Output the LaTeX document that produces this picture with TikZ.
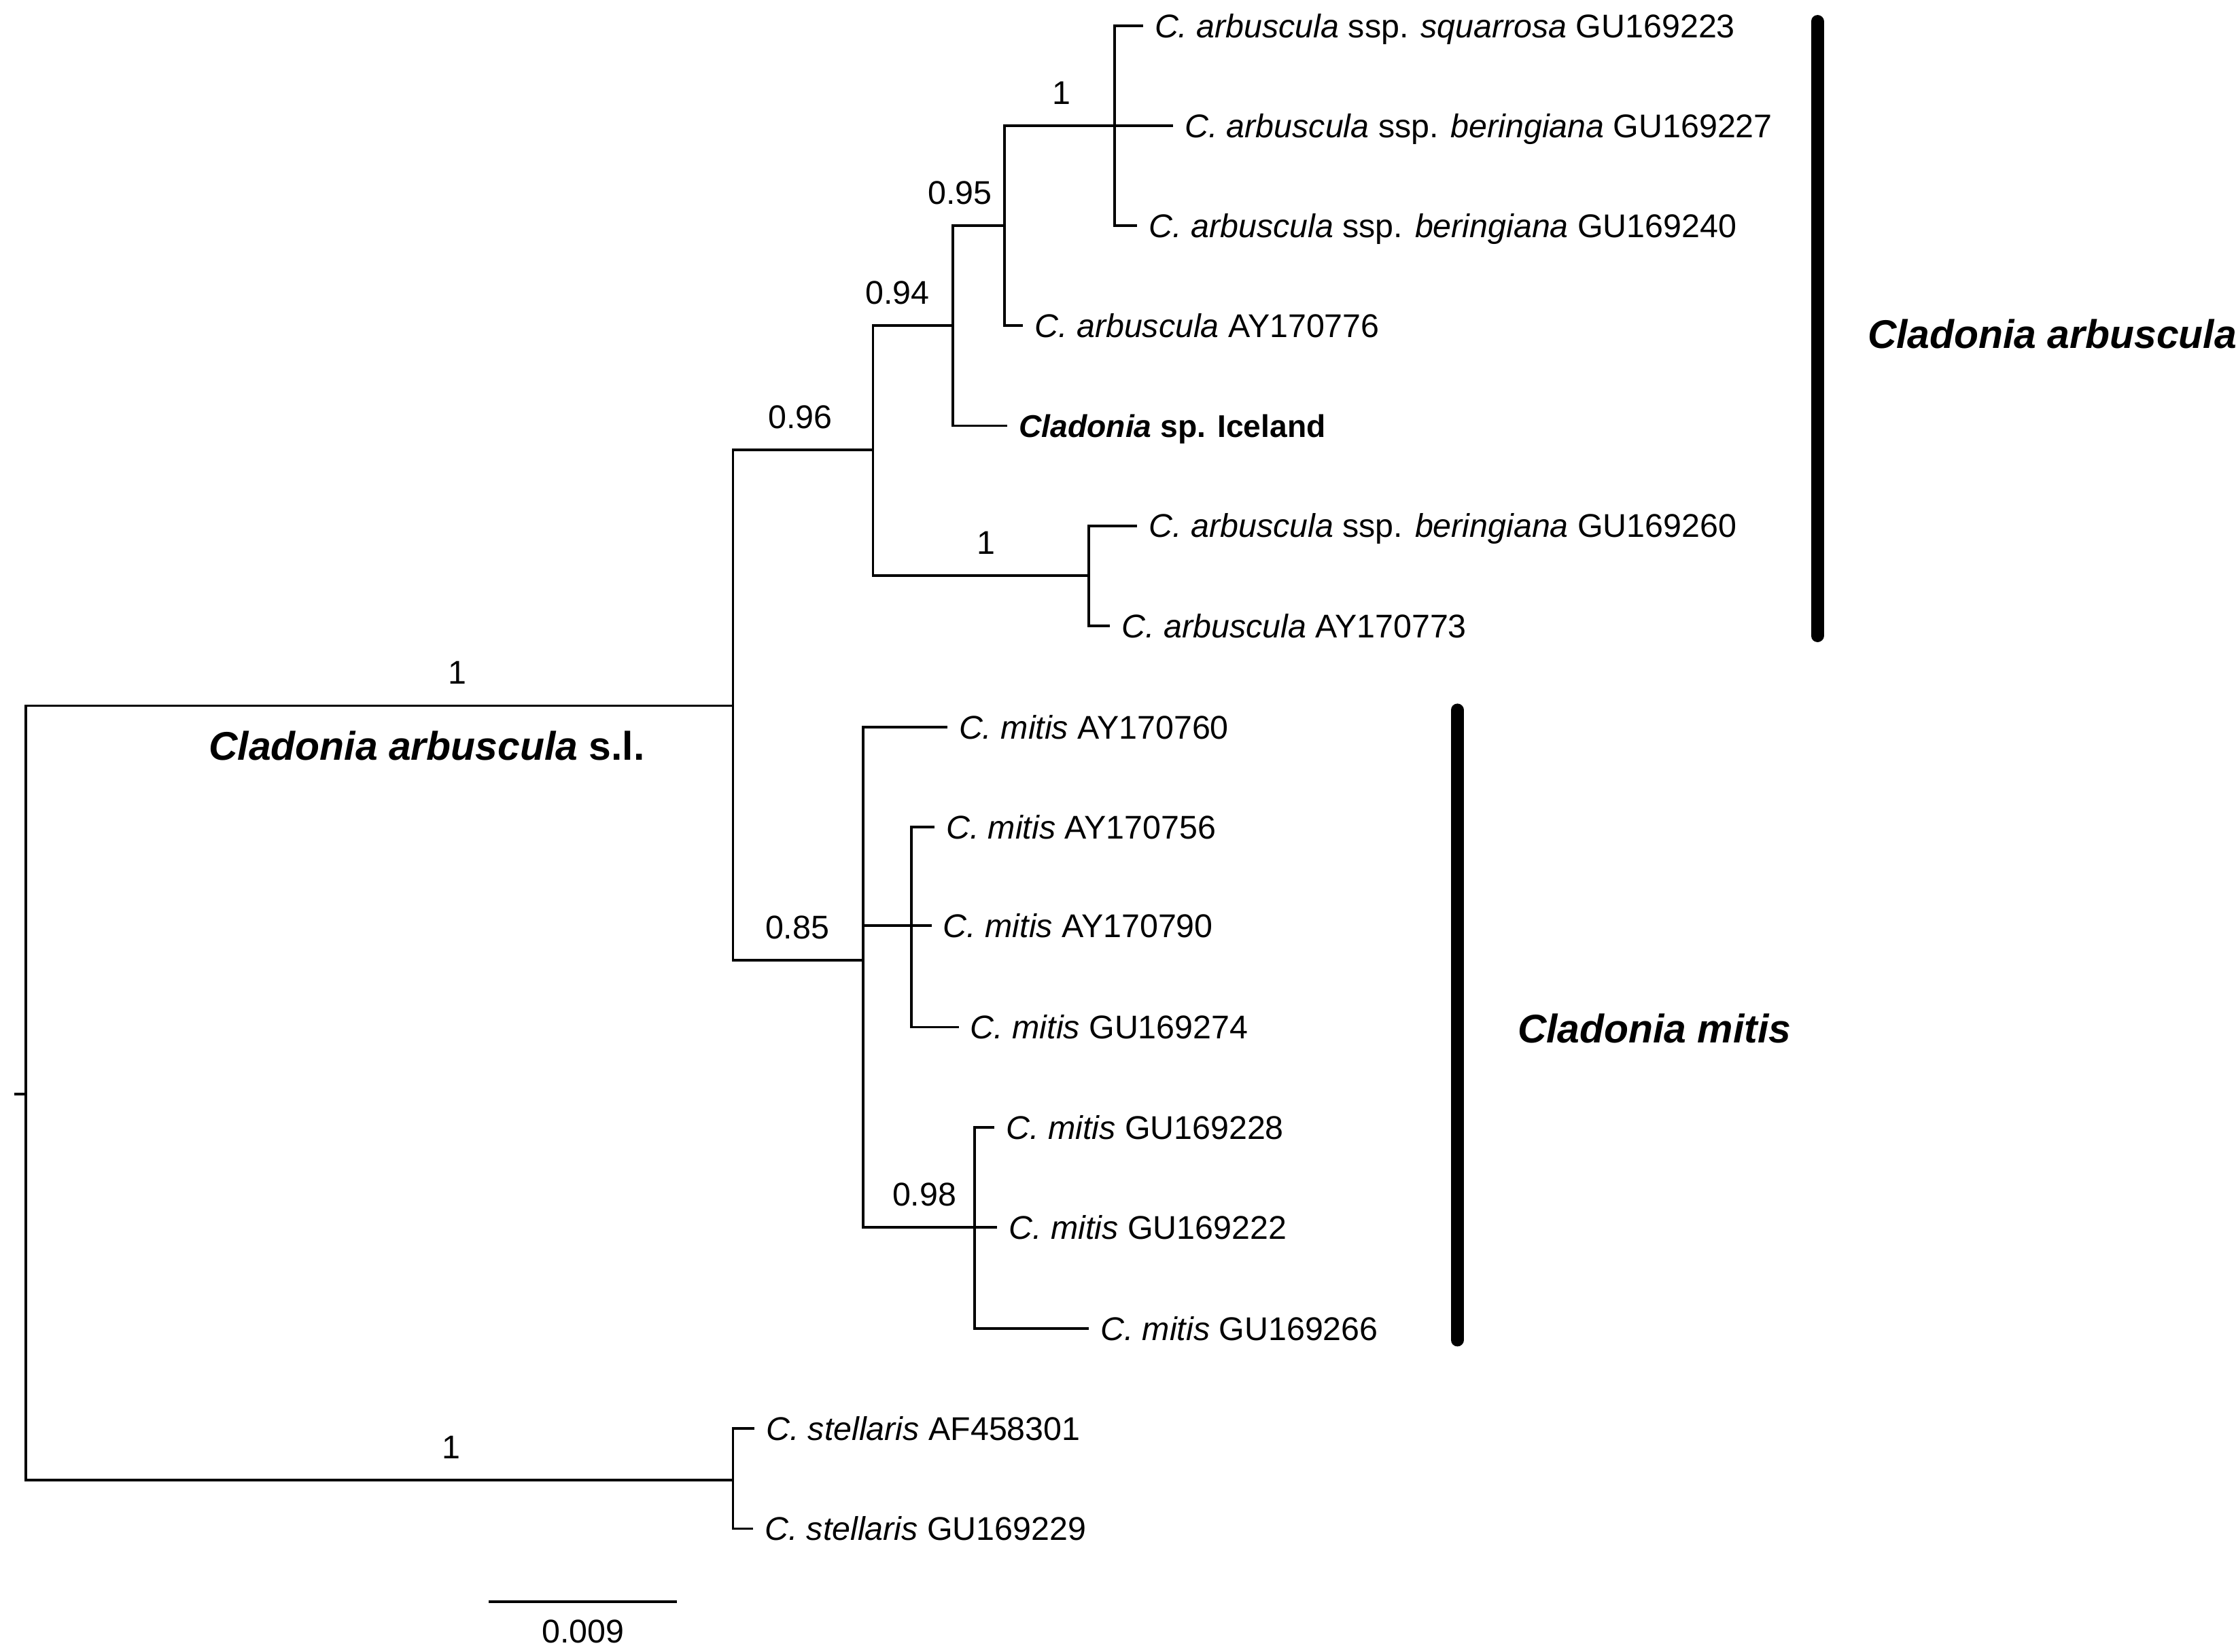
\documentclass[tikz,border=0pt]{standalone}
\usepackage{fontspec}
\setmainfont{Liberation Sans}
\tikzset{
  tree/.style={
    branch/.style={black,line width=1.8pt},
    leaf/.style={anchor=west,inner xsep=8pt,inner ysep=0pt,text height=18.5pt,text depth=2pt,font={\fontsize{23}{28}\selectfont}},
    support/.style={anchor=base,inner sep=0pt,yshift=15pt,font={\fontsize{23}{28}\selectfont}},
    scale label/.style={anchor=base,inner sep=0pt,yshift=-29pt,font={\fontsize{23}{28}\selectfont}},
    clade bar/.style={black,line width=9pt,line cap=round},
    clade name/.style={anchor=west,inner sep=0pt,text height=22pt,text depth=2pt,font={\bfseries\fontsize{28}{34}\selectfont}},
  },
}
\newcommand{\leaves}[2]{
    \foreach \n/\px/\py/\txt in {#2}{
        \node[leaf] (\n) at (\px,\py) {\txt};
        \draw[branch] (#1) |- (\n.west);
    }
}

\begin{document}
\begin{tikzpicture}[tree,x=1pt,y=-1pt]
    \useasboundingbox (0,0) rectangle (1565,1156);

    % inner nodes
    \coordinate (R) at (18,766);
    \coordinate (stub) at (10,766);
    \coordinate (A) at (513,494);
    \coordinate (S) at (513,1036);
    \coordinate (B) at (611,315);
    \coordinate (G) at (604,672);
    \coordinate (C) at (667,228);
    \coordinate (F) at (762,403);
    \coordinate (D) at (703,158);
    \coordinate (E) at (780,88);
    \coordinate (H) at (638,648);
    \coordinate (I) at (682,859);

    \draw[branch] (R) -- (stub);
    \foreach \p/\c in {R/A,R/S,A/B,A/G,B/C,B/F,C/D,D/E,G/H,G/I}
        \draw[branch] (\p) |- (\c);

    % leaves
    \leaves{E}{
        l1/800/18/{\textit{C. arbuscula} ssp. \textit{squarrosa} GU169223},
        l2/821/88/{\textit{C. arbuscula} ssp. \textit{beringiana} GU169227},
        l3/796/158/{\textit{C. arbuscula} ssp. \textit{beringiana} GU169240}}
    \leaves{D}{l4/716/228/{\textit{C. arbuscula} AY170776}}
    \leaves{C}{l5/705/298/{\fontsize{22}{28}\selectfont\textbf{\textit{Cladonia} sp. Iceland}}}
    \leaves{F}{
        l6/796/368/{\textit{C. arbuscula} ssp. \textit{beringiana} GU169260},
        l7/777/438/{\textit{C. arbuscula} AY170773}}
    \leaves{G}{l8/663/509/{\textit{C. mitis} AY170760}}
    \leaves{H}{
        l9/654/579/{\textit{C. mitis} AY170756},
        l10/652/648/{\textit{C. mitis} AY170790},
        l11/671/719/{\textit{C. mitis} GU169274}}
    \leaves{I}{
        l12/696/789/{\textit{C. mitis} GU169228},
        l13/698/859/{\textit{C. mitis} GU169222},
        l14/762/930/{\textit{C. mitis} GU169266}}
    \leaves{S}{
        l15/528/1000/{\textit{C. stellaris} AF458301},
        l16/527/1070/{\textit{C. stellaris} GU169229}}

    % support values
    \node[support] (sA) at (320,494) {1};
    \node[support] (sS) at (316,1036) {1};
    \node[support] (sB) at (560,315) {0.96};
    \node[support] (sG) at (558,672) {0.85};
    \node[support] (sC) at (628,228) {0.94};
    \node[support] (sF) at (690,403) {1};
    \node[support] (sD) at (672,158) {0.95};
    \node[support] (sE) at (743,88) {1};
    \node[support] (sI) at (647,859) {0.98};

    % clades
    \coordinate (arbtop) at (1272,15);
    \coordinate (arbbot) at (1272,445);
    \coordinate (mittop) at (1020,497);
    \coordinate (mitbot) at (1020,938);
    \draw[clade bar] (arbtop) -- (arbbot);
    \draw[clade bar] (mittop) -- (mitbot);
    \node[clade name] (arbname) at (1307,234) {\textit{Cladonia arbuscula}};
    \node[clade name] (mitname) at (1062,720) {\textit{Cladonia mitis}};
    \node[clade name] (slname) at (146,522) {\textit{Cladonia arbuscula} s.l.};

    % scale bar
    \coordinate (sb0) at (342,1121);
    \coordinate (sb1) at (474,1121);
    \draw[branch] (sb0) -- (sb1);
    \path (sb0) -- node[scale label] (sbl) {0.009} (sb1);
\end{tikzpicture}
\end{document}
